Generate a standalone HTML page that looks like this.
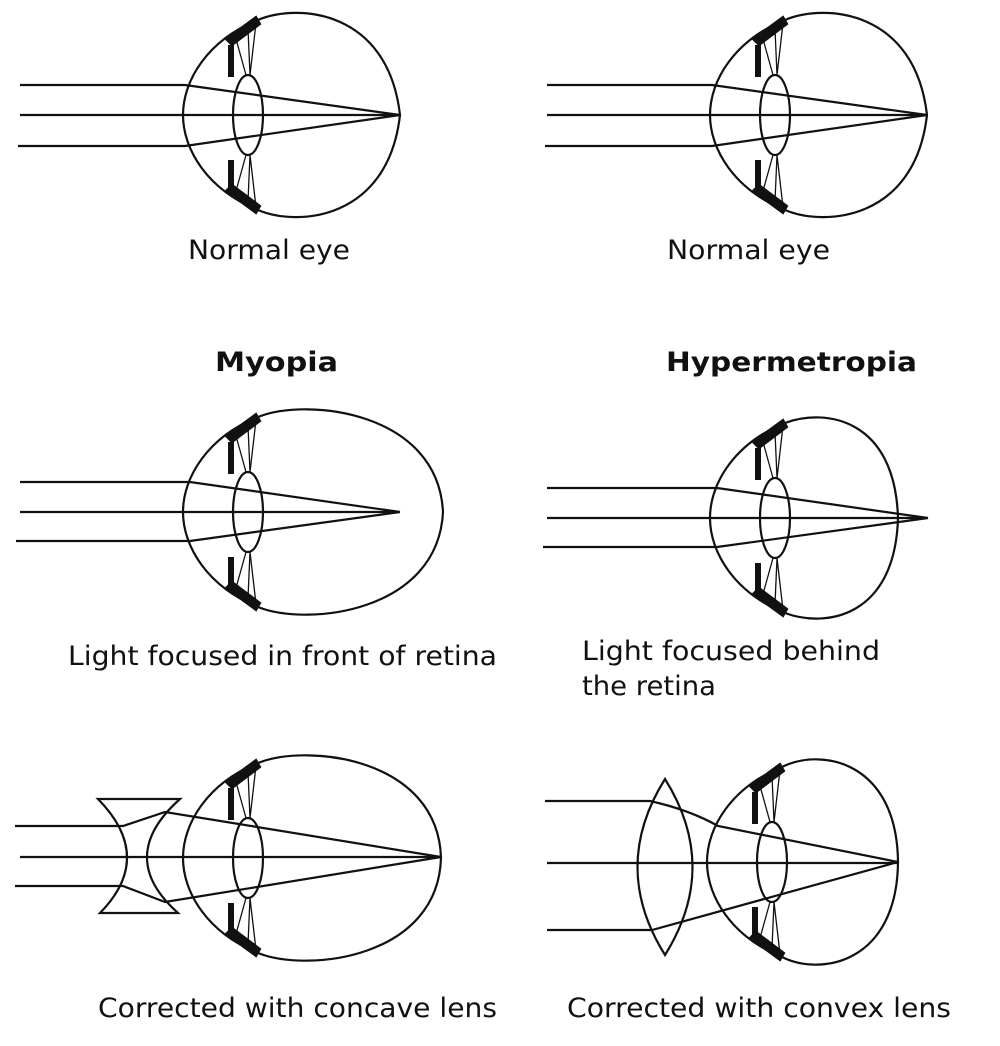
<!DOCTYPE html>
<html><head><meta charset="utf-8"><style>
html,body{margin:0;padding:0;background:#fff}
svg{display:block}
text{font-family:"DejaVu Sans","Liberation Sans",Arial,sans-serif;font-size:27px;fill:#111}
</style></head><body>
<svg width="1000" height="1046" viewBox="0 0 1000 1046" xmlns="http://www.w3.org/2000/svg">
<defs>
<g id="parts" fill="none" stroke="#111" stroke-width="2.2">
  <path d="M 10,-95 C -40,-75 -65,-35 -65,0 C -65,35 -40,75 10,95"/>
  <ellipse cx="0" cy="0" rx="15" ry="40"/>
  <rect x="-20" y="-70" width="6" height="32" fill="#111" stroke="none"/>
  <rect x="-20" y="45" width="6" height="32" fill="#111" stroke="none"/>
  <polygon points="-22,-76 8,-98 12,-91 -16,-70" fill="#111" stroke="#111"/>
  <polygon points="-22,76 8,98 12,91 -16,70" fill="#111" stroke="#111"/>
  <path d="M -2,-40 L -12,-76 M 2,-40 L 0,-86 M 2,-40 L 8,-92 M -2,40 L -12,76 M 2,40 L 0,86 M 2,40 L 8,92" stroke-width="1.3"/>
</g>
</defs>
<g fill="none" stroke="#111" stroke-width="2.2">
<g transform="translate(248,115)">
  <use href="#parts"/>
  <path d="M 10,-95 C 50,-112 140,-105 152,0 C 140,105 50,112 10,95"/>
</g>
<path d="M20,85 L185,85 L400,115 M20,115 L400,115 M18,146 L185,146 L400,115"/>
<g transform="translate(775,115)">
  <use href="#parts"/>
  <path d="M 10,-95 C 50,-112 140,-105 152,0 C 140,105 50,112 10,95"/>
</g>
<path d="M547,85 L712,85 L927,115 M547,115 L927,115 M545,146 L712,146 L927,115"/>
<g transform="translate(248,512)">
  <use href="#parts"/>
  <path d="M 10,-95 C 60,-115 190,-100 195,0 C 190,100 60,115 10,95"/>
</g>
<path d="M20,482 L190,482 L400,512 M20,512 L400,512 M16,541 L190,541 L400,512"/>
<g transform="translate(775,518)">
  <use href="#parts"/>
  <path d="M 10,-95 C 50,-110 120,-100 123,0 C 120,100 50,110 10,95"/>
</g>
<path d="M547,488 L717,488 L928,518 M547,518 L928,518 M543,547 L717,547 L928,518"/>
<g transform="translate(248,858)">
  <use href="#parts"/>
  <path d="M 10,-95 C 60,-115 190,-100 193,0 C 190,100 60,115 10,95"/>
</g>
<path d="M98,799 L180,799 Q 115,857 178,913 L100,913 Q 155,857 98,799 Z"/>
<path d="M15,826 L123,826 L165,812 L441,857 M20,857 L441,857 M15,886 L123,886 L165,902 L441,857"/>
<g transform="translate(772,862)">
  <use href="#parts"/>
  <path d="M 10,-95 C 50,-115 125,-100 126,0 C 125,100 50,115 10,95"/>
</g>
<path d="M665,779 Q 610,867 665,955 Q 720,867 665,779 Z"/>
<path d="M545,801 L650,801 Q 690,810 718,826 L898,862 M547,863 L898,863 M547,930 L652,930 L898,862"/>
</g>
<text x="188" y="259" textLength="162" lengthAdjust="spacingAndGlyphs">Normal eye</text>
<text x="667" y="259" textLength="163" lengthAdjust="spacingAndGlyphs">Normal eye</text>
<text x="215" y="371" textLength="123" lengthAdjust="spacingAndGlyphs" style="font-weight:bold">Myopia</text>
<text x="666" y="371" textLength="251" lengthAdjust="spacingAndGlyphs" style="font-weight:bold">Hypermetropia</text>
<text x="68" y="665" textLength="429" lengthAdjust="spacingAndGlyphs">Light focused in front of retina</text>
<text x="582" y="660" textLength="298" lengthAdjust="spacingAndGlyphs">Light focused behind</text>
<text x="582" y="695" textLength="134" lengthAdjust="spacingAndGlyphs">the retina</text>
<text x="98" y="1017" textLength="399" lengthAdjust="spacingAndGlyphs">Corrected with concave lens</text>
<text x="567" y="1017" textLength="384" lengthAdjust="spacingAndGlyphs">Corrected with convex lens</text>
</svg>
</body></html>
